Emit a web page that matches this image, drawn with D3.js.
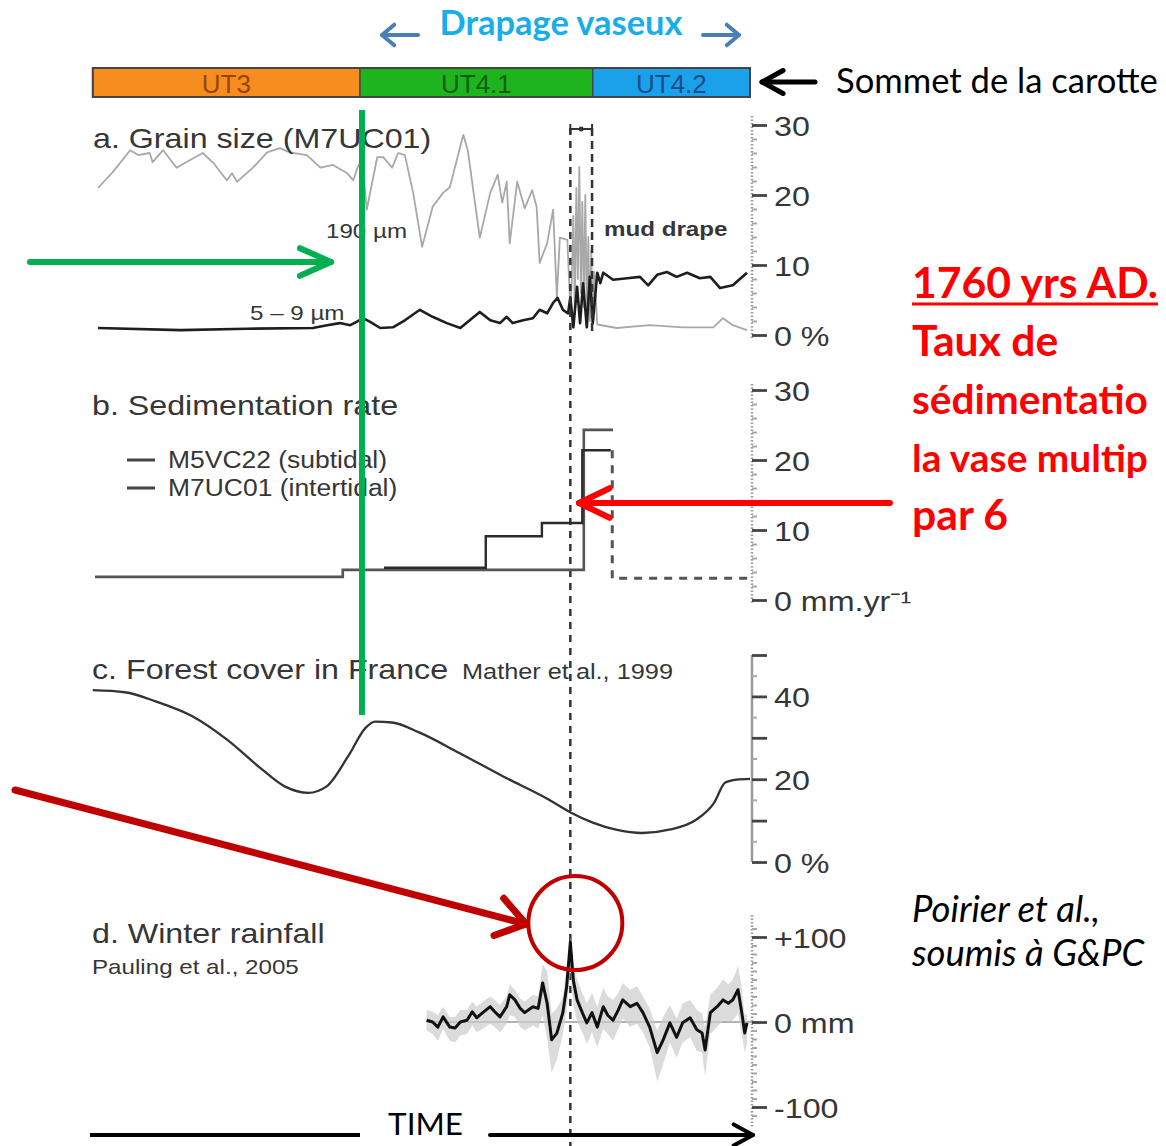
<!DOCTYPE html>
<html><head><meta charset="utf-8">
<script src="https://cdn.jsdelivr.net/npm/d3@7"></script>
<style>body{margin:0;background:#fff;overflow:hidden}svg{display:block}</style>
</head><body>
<svg id="c" width="1166" height="1146"></svg>
<script>
// ---------------- DATA ----------------
const timeDomain = [1125, 2000];
const eventYear = 1760;

const units = ["UT3", "UT4.1", "UT4.2"];
const unitStart = [1122, 1479, 1790];
const unitEnd = [1479, 1790, 2000];

// a. Grain size (M7UC01)
const coarseYears = [1129,1149,1172,1183,1198,1202,1216,1234,1252,1269,1283,1301,1308,1315,1336,1355,1372,1385,1408,1426,1443,1462,1470,1476,1482,1488,1502,1510,1522,1530,1539,1550,1562,1576,1590,1599,1617,1623,1639,1653,1663,1669,1675,1679,1689,1699,1709,1715,1719,1729,1737,1742,1746,1756,1760,1762,1764,1766,1768,1770,1772,1774,1776,1778,1780,1782,1784,1786,1788,1790,1792,1796,1822,1866,1910,1951,1964,1977,1996];
const coarseValues = [21,23.3,26.4,25.7,26,24.7,26.4,23.9,25,26,24.6,22.1,23.1,21.9,23.9,26.1,26.7,26.1,25.7,23.9,24.3,23.1,22.1,24,25,17.9,25.4,25.4,23.9,26,25.7,20.3,12.6,18.3,20.3,21.1,28.6,26.4,13.9,20.3,22.9,18.9,21.9,13.1,21.9,18.1,20.7,18.3,10.3,13.1,17.9,5.4,13.9,13.6,3.6,8,17,3,21,8,24,6,19,4,20,3,14,2,12,1.5,9,1.5,1,1.4,1.1,1.1,2.4,1.4,0.7];
const fineYears = [1129,1239,1328,1416,1435,1452,1466,1475,1483,1492,1506,1523,1539,1559,1576,1595,1613,1639,1653,1666,1675,1683,1697,1710,1719,1729,1737,1743,1750,1757,1760,1764,1769,1773,1777,1782,1786,1790,1796,1800,1804,1817,1836,1853,1864,1876,1889,1902,1916,1933,1947,1960,1977,1996];
const fineValues = [1,0.7,0.9,1,1.4,1.7,1.4,1.9,2.4,1.9,1,1.1,2.1,3.6,2.6,1.7,1,3.3,2.1,1.7,2.6,1.7,2.1,2.4,3.6,3.1,4.6,5.3,3.6,3.1,5.4,1.1,6.9,1.7,7.4,1.1,8.3,1.7,8.9,7.4,8.9,7.9,8.1,8.3,7.1,8.6,9,8.3,8.9,8.1,8.3,6.7,7.1,8.9];
const grainTicks = [0, 10, 20, 30];

// b. Sedimentation rate (mm/yr)
const sedSeries = ["M5VC22 (subtidal)", "M7UC01 (intertidal)"];
const sedAYears = [1125, 1456, 1778, 1817];
const sedAValues = [3.3, 4.3, 24.3, 24.3];
const sedBYears = [1511, 1647, 1722, 1776, 1814];
const sedBValues = [4.6, 9.1, 11, 21.4, 21.4];
const sedBDashYears = [1816, 1816, 2000];
const sedBDashValues = [21.4, 3.1, 3.1];
const sedTicks = [0, 10, 20, 30];

// c. Forest cover in France (%)
const forestYears = [1122,1165,1206,1255,1301,1344,1379,1410,1434,1463,1487,1499,1522,1558,1611,1671,1732,1761,1790,1821,1856,1892,1928,1952,1967,1982,2000];
const forestValues = [41.5,41,38.8,35.2,29.6,23,18.2,16.7,18.2,25.5,32.5,33.9,33.7,31.3,26.4,20.6,15,11.9,9.5,7.8,7,7.8,10.2,14.3,19.2,19.9,20.1];
const forestTicks = [0, 10, 20, 30, 40, 50];
const forestLabelled = [0, 20, 40];

// d. Winter rainfall anomaly (mm)
const rainYears = [1568,1576,1583,1590,1599,1606,1613,1622,1629,1635,1643,1653,1659,1666,1675,1679,1686,1693,1699,1710,1717,1723,1729,1735,1742,1750,1755,1760,1764,1769,1776,1782,1789,1796,1804,1810,1817,1824,1830,1840,1849,1857,1866,1876,1884,1893,1902,1910,1920,1929,1936,1940,1947,1956,1964,1971,1977,1984,1989,1993,1996];
const rainValues = [2,0,-6,6,-6,-7,0,2,12,5,11,18,12,6,18,32,26,16,11,18,16,46,22,-21,-13,11,41,94,49,26,11,-1,11,-6,18,8,2,14,26,18,22,11,-6,-36,-21,-1,-18,-1,5,-9,-13,-33,11,18,26,22,26,38,11,-13,-1];
const rainHigh = [14,12,8,18,6,6,14,14,24,18,24,30,26,20,30,44,38,28,24,32,30,68,60,10,16,30,62,100,70,50,34,22,34,18,40,30,26,34,46,38,42,30,16,-10,6,20,4,22,26,14,10,-6,32,40,50,44,50,66,40,8,10];
const rainLow = [-10,-14,-22,-8,-22,-24,-16,-14,-4,-12,-8,-2,-6,-12,-2,8,6,-6,-10,-4,-8,8,-20,-60,-44,-14,14,60,20,0,-12,-26,-12,-30,-8,-14,-22,-8,4,-6,-2,-12,-30,-70,-50,-24,-42,-24,-18,-34,-36,-64,-14,-6,2,0,2,10,-14,-36,-26];
const rainTicks = [-100, 0, 100];

// slide annotations (text as visible in the picture)
const redLines = ['1760 yrs AD.', 'Taux de', 'sédimentatio', 'la vase multip', 'par 6'];

// ---------------- STYLE ----------------
const FONT = '"Liberation Sans", Arial, Helvetica, sans-serif';
const ANNO = 'Lato, "Open Sans", sans-serif';
const TXT = '#363636';
const STRETCH = 1.15;
const unitFill = {"UT3": "#F68D1F", "UT4.1": "#1DB41D", "UT4.2": "#1BA1EA"};
const unitInk = {"UT3": "#9A4409", "UT4.1": "#0F5E12", "UT4.2": "#184E88"};

const svg = d3.select('#c');
const x = d3.scaleLinear().domain(timeDomain).range([95, 750]);
const yA = d3.scaleLinear().domain([0, 30]).range([335, 125]);
const yB = d3.scaleLinear().domain([0, 30]).range([600, 390]);
const yC = d3.scaleLinear().domain([0, 50]).range([862, 655]);
const yD = d3.scaleLinear().domain([-100, 100]).range([1107, 937]);
const AX = 752;
const RIGHT_EDGE = 1148;

function stretch(sel, f) {
  sel.each(function () {
    const L = this.getComputedTextLength();
    if (L > 0) d3.select(this).attr('textLength', L * f).attr('lengthAdjust', 'spacingAndGlyphs');
  });
}
function label(str, px, py, size, opts = {}) {
  const t = svg.append('text').attr('x', px).attr('y', py).text(str)
    .attr('font-family', opts.family || FONT).attr('font-size', size)
    .attr('fill', opts.fill || TXT)
    .attr('font-weight', opts.weight || 'normal')
    .attr('font-style', opts.style || 'normal');
  if (opts.anchor) t.attr('text-anchor', opts.anchor);
  if (opts.fit) {
    const L = t.node().getComputedTextLength();
    t.attr('font-size', size * opts.fit / L);
  } else if (opts.stretch !== false && !opts.family) {
    stretch(t, STRETCH);
  }
  if (opts.maxRight) {
    const L = t.node().getComputedTextLength();
    if (px + L > opts.maxRight) t.attr('font-size', size * (opts.maxRight - px) / L);
  }
  return t;
}
function chevron(color, width, tip, dir, len, spread) {
  const a1 = dir + Math.PI - spread, a2 = dir + Math.PI + spread;
  const p = d3.path();
  p.moveTo(tip[0] + len * Math.cos(a1), tip[1] + len * Math.sin(a1));
  p.lineTo(tip[0], tip[1]);
  p.lineTo(tip[0] + len * Math.cos(a2), tip[1] + len * Math.sin(a2));
  svg.append('path').attr('d', p.toString()).attr('fill', 'none')
    .attr('stroke', color).attr('stroke-width', width)
    .attr('stroke-linecap', 'round').attr('stroke-linejoin', 'round');
}
function arrow(color, width, from, to, len, spread) {
  svg.append('line').attr('x1', from[0]).attr('y1', from[1]).attr('x2', to[0]).attr('y2', to[1])
    .attr('stroke', color).attr('stroke-width', width).attr('stroke-linecap', 'round');
  chevron(color, width, to, Math.atan2(to[1] - from[1], to[0] - from[0]), len, spread);
}

// ---------------- UNIT BAR ----------------
const bar = svg.append('g');
bar.selectAll('rect').data(units).join('rect')
  .attr('x', (d, i) => x(unitStart[i])).attr('width', (d, i) => x(unitEnd[i]) - x(unitStart[i]))
  .attr('y', 68).attr('height', 29).attr('fill', d => unitFill[d])
  .attr('stroke', '#4a4a4a').attr('stroke-width', 1.5);
bar.selectAll('text').data(units).join('text')
  .attr('x', (d, i) => (x(unitStart[i]) + x(unitEnd[i])) / 2).attr('y', 93)
  .attr('text-anchor', 'middle').attr('font-family', FONT).attr('font-size', 26)
  .attr('fill', d => unitInk[d]).text(d => d);
bar.append('rect').attr('x', x(unitStart[0])).attr('y', 68)
  .attr('width', x(unitEnd[2]) - x(unitStart[0])).attr('height', 29)
  .attr('fill', 'none').attr('stroke', '#444').attr('stroke-width', 2);

// ---------------- AXES ----------------
function rightAxis(yScale, major, fmt, minor, extTop, extBot, dotted) {
  const g = svg.append('g').attr('transform', `translate(${AX},0)`);
  g.append('line').attr('x1', 0).attr('x2', 0).attr('y1', extTop).attr('y2', extBot)
    .attr('stroke', '#9a9a9a').attr('stroke-width', 2.5)
    .attr('stroke-dasharray', dotted ? '1.5,2' : null);
  const gm = g.append('g').call(d3.axisRight(yScale).tickValues(minor).tickSize(5).tickFormat(''));
  gm.select('.domain').remove();
  gm.selectAll('line').attr('stroke', '#a8a8a8').attr('stroke-width', 2);
  const gM = g.append('g').call(d3.axisRight(yScale).tickValues(major).tickSize(15).tickPadding(7).tickFormat(fmt));
  gM.select('.domain').remove();
  gM.selectAll('line').attr('stroke', '#444').attr('stroke-width', 2.8);
  gM.selectAll('text').attr('font-family', FONT).attr('font-size', 28).attr('fill', TXT).attr('dy', '0.36em');
  stretch(gM.selectAll('text'), STRETCH);
}
rightAxis(yA, grainTicks, d => d === 0 ? '0 %' : String(d), d3.range(0, 31, 2), 116, 338, true);
rightAxis(yB, sedTicks, d => d === 0 ? '0 mm.yr\u207B\u00B9' : String(d), d3.range(0, 31, 2), 384, 603, true);
rightAxis(yC, forestTicks, d => forestLabelled.includes(d) ? (d === 0 ? '0 %' : String(d)) : '', d3.range(5, 50, 10), yC(50), yC(0), false);
rightAxis(yD, rainTicks, d => d === 0 ? '0 mm' : (d > 0 ? '+' + d : String(d)), d3.range(-110, 111, 10), 915, 1128, true);

// ---------------- PANEL A ----------------
const lineA = d3.line().x(d => x(d[0])).y(d => yA(d[1]));
svg.append('path').datum(d3.zip(coarseYears, coarseValues)).attr('d', lineA)
  .attr('fill', 'none').attr('stroke', '#a8a8a8').attr('stroke-width', 1.8).attr('stroke-linejoin', 'round');
svg.append('path').datum(d3.zip(fineYears, fineValues)).attr('d', lineA)
  .attr('fill', 'none').attr('stroke', '#1e1e1e').attr('stroke-width', 2.6).attr('stroke-linejoin', 'round');
label('a. Grain size (M7UC01)', 93, 148, 28);
label('190 \u00B5m', 326, 238, 21);
label('5 \u2013 9 \u00B5m', 250, 320, 21);
label('mud drape', 604, 236, 21, {weight: 'bold'});

// drape bracket + dashed lines
const drapeEnd = 1789;
svg.append('line').attr('x1', x(drapeEnd)).attr('x2', x(drapeEnd)).attr('y1', 128).attr('y2', 332)
  .attr('stroke', '#333').attr('stroke-width', 2.5).attr('stroke-dasharray', '8,5');
svg.append('line').attr('x1', x(eventYear)).attr('x2', x(drapeEnd)).attr('y1', 129).attr('y2', 129)
  .attr('stroke', '#333').attr('stroke-width', 2);
[eventYear, drapeEnd].forEach(v => svg.append('line').attr('x1', x(v)).attr('x2', x(v)).attr('y1', 124).attr('y2', 134)
  .attr('stroke', '#333').attr('stroke-width', 2));
svg.append('circle').attr('cx', (x(eventYear) + x(drapeEnd)) / 2).attr('cy', 129).attr('r', 2.5).attr('fill', '#333');
svg.append('line').attr('x1', x(eventYear)).attr('x2', x(eventYear)).attr('y1', 128).attr('y2', 1146)
  .attr('stroke', '#333').attr('stroke-width', 2.5).attr('stroke-dasharray', '7,6');

// ---------------- PANEL B ----------------
const lineB = d3.line().x(d => x(d[0])).y(d => yB(d[1])).curve(d3.curveStepAfter);
svg.append('path').datum(d3.zip(sedAYears, sedAValues)).attr('d', lineB)
  .attr('fill', 'none').attr('stroke', '#555').attr('stroke-width', 2.6);
svg.append('path').datum(d3.zip(sedBYears, sedBValues)).attr('d', lineB)
  .attr('fill', 'none').attr('stroke', '#2a2a2a').attr('stroke-width', 2.4);
svg.append('path').datum(d3.zip(sedBDashYears, sedBDashValues))
  .attr('d', d3.line().x(d => x(d[0])).y(d => yB(d[1])))
  .attr('fill', 'none').attr('stroke', '#555').attr('stroke-width', 3).attr('stroke-dasharray', '8,7');
label('b. Sedimentation rate', 92, 415, 28);
sedSeries.forEach((s, i) => {
  const yy = 460 + i * 28;
  svg.append('line').attr('x1', 127).attr('x2', 155).attr('y1', yy).attr('y2', yy)
    .attr('stroke', '#444').attr('stroke-width', 3);
  label(s, 168, yy + 8, 23);
});

// ---------------- PANEL C ----------------
svg.append('path').datum(d3.zip(forestYears, forestValues))
  .attr('d', d3.line().x(d => x(d[0])).y(d => yC(d[1])).curve(d3.curveMonotoneX))
  .attr('fill', 'none').attr('stroke', '#333').attr('stroke-width', 2.3);
label('c. Forest cover in France', 92, 679, 28);
label('Mather et al., 1999', 462, 679, 22);

// ---------------- PANEL D ----------------
svg.append('line').attr('x1', x(rainYears[0])).attr('x2', AX).attr('y1', yD(0)).attr('y2', yD(0))
  .attr('stroke', '#999').attr('stroke-width', 1.5);
svg.append('path').datum(d3.range(rainYears.length))
  .attr('d', d3.area().x(i => x(rainYears[i])).y0(i => yD(rainLow[i])).y1(i => yD(rainHigh[i])))
  .attr('fill', '#cccccc').attr('opacity', 0.7);
svg.append('path').datum(d3.zip(rainYears, rainValues))
  .attr('d', d3.line().x(d => x(d[0])).y(d => yD(d[1])))
  .attr('fill', 'none').attr('stroke', '#111').attr('stroke-width', 3).attr('stroke-linejoin', 'round');
label('d. Winter rainfall', 92, 943, 28);
label('Pauling et al., 2005', 92, 974, 21);

// ---------------- ANNOTATIONS ----------------
label('Drapage vaseux', 561, 35, 30, {family: ANNO, weight: 'bold', fill: '#1AAEE8', anchor: 'middle', fit: 243});
arrow('#4A7EBB', 4, [418, 35], [382, 35], 16, 0.7);
arrow('#4A7EBB', 4, [703, 35], [739, 35], 16, 0.7);
arrow('#000', 5, [815, 82], [762, 82], 24, 0.5);
label('Sommet de la carotte', 836, 93, 30, {family: ANNO, fill: '#000', fit: 322});

svg.append('line').attr('x1', 362).attr('x2', 362).attr('y1', 110).attr('y2', 715)
  .attr('stroke', '#00B050').attr('stroke-width', 6);
arrow('#00B050', 6, [30, 262], [331, 262], 34, 0.42);

arrow('#FF0000', 6, [890, 503], [579, 503], 34, 0.45);
const r0 = label(redLines[0], 912, 298, 40, {family: ANNO, weight: 'bold', fill: '#FF0000', fit: 246});
const redSize = +r0.attr('font-size');
redLines.slice(1).forEach((s, i) => label(s, 912, 356 + i * 58, redSize, {family: ANNO, weight: 'bold', fill: '#FF0000', maxRight: RIGHT_EDGE}));
svg.append('line').attr('x1', 912).attr('x2', 1158).attr('y1', 304).attr('y2', 304)
  .attr('stroke', '#FF0000').attr('stroke-width', 3);

arrow('#C00000', 7, [15, 790], [526, 924], 34, 0.6);
svg.append('circle').attr('cx', x(eventYear) + 5).attr('cy', 923).attr('r', 47)
  .attr('fill', 'none').attr('stroke', '#C00000').attr('stroke-width', 4);

const p0 = label('Poirier et al.,', 912, 922, 28, {family: ANNO, style: 'italic', fill: '#000', fit: 188});
label('soumis à G&PC', 912, 966, +p0.attr('font-size'), {family: ANNO, style: 'italic', fill: '#000'});

svg.append('line').attr('x1', 90).attr('x2', 360).attr('y1', 1135).attr('y2', 1135)
  .attr('stroke', '#000').attr('stroke-width', 4);
arrow('#000', 4, [490, 1135], [753, 1135], 22, 0.5);
label('TIME', 388, 1135, 30, {family: ANNO, fill: '#000', fit: 75});
</script>
</body></html>
